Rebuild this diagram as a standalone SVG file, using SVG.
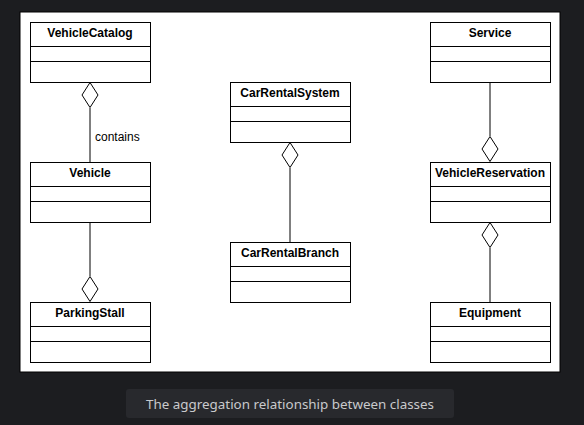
<svg xmlns="http://www.w3.org/2000/svg" width="584" height="425" viewBox="0 0 584 425">
<style>
.box{fill:#fff;stroke:#000;stroke-width:1}
.sep{stroke:#000;stroke-width:1}
.t{font-family:"Liberation Sans",Arial,sans-serif;font-size:12px;font-weight:bold;fill:#000;text-anchor:middle}
.lbl{font-family:"Liberation Sans",Arial,sans-serif;font-size:12px;fill:#000}
.edge{stroke:#000;stroke-width:1;fill:none}
.dia{fill:#fff;stroke:#000;stroke-width:1}
.cap{font-family:"Noto Sans","Open Sans",sans-serif;font-size:13.4px;fill:#c9cacc;text-anchor:middle}
</style>
<rect x="0" y="0" width="584" height="425" fill="#1c1d20"/>
<rect x="20" y="12" width="540" height="360" fill="#fff" stroke="#000" stroke-width="1"/>
<g id="connectors">
  <line class="edge" x1="90" y1="108" x2="90" y2="162"/>
  <path class="dia" d="M90 82.5 L98 95 L90 107.5 L82 95 Z"/>
  <line class="edge" x1="90" y1="222" x2="90" y2="276"/>
  <path class="dia" d="M90 276.5 L98 289 L90 301.5 L82 289 Z"/>
  <line class="edge" x1="290" y1="168" x2="290" y2="242"/>
  <path class="dia" d="M290 142.5 L298 155 L290 167.5 L282 155 Z"/>
  <line class="edge" x1="490" y1="82" x2="490" y2="136"/>
  <path class="dia" d="M490 136.5 L498 149 L490 161.5 L482 149 Z"/>
  <line class="edge" x1="490" y1="248" x2="490" y2="302" stroke="#555"/>
  <path class="dia" d="M490 222.5 L498 235 L490 247.5 L482 235 Z"/>
  <text class="lbl" x="95" y="141">contains</text>
</g>
<g id="VehicleCatalog">
  <rect class="box" x="30.5" y="22.5" width="120" height="60"/>
  <line class="sep" x1="30.5" y1="46.5" x2="150.5" y2="46.5"/>
  <line class="sep" x1="30.5" y1="61.5" x2="150.5" y2="61.5"/>
  <text class="t" x="90" y="37">VehicleCatalog</text>
</g>
<g id="Vehicle">
  <rect class="box" x="30.5" y="162.5" width="120" height="60"/>
  <line class="sep" x1="30.5" y1="186.5" x2="150.5" y2="186.5"/>
  <line class="sep" x1="30.5" y1="201.5" x2="150.5" y2="201.5"/>
  <text class="t" x="90" y="177">Vehicle</text>
</g>
<g id="ParkingStall">
  <rect class="box" x="30.5" y="302.5" width="120" height="60"/>
  <line class="sep" x1="30.5" y1="326.5" x2="150.5" y2="326.5"/>
  <line class="sep" x1="30.5" y1="341.5" x2="150.5" y2="341.5"/>
  <text class="t" x="90" y="317">ParkingStall</text>
</g>
<g id="CarRentalSystem">
  <rect class="box" x="230.5" y="82.5" width="120" height="60"/>
  <line class="sep" x1="230.5" y1="106.5" x2="350.5" y2="106.5"/>
  <line class="sep" x1="230.5" y1="121.5" x2="350.5" y2="121.5"/>
  <text class="t" x="290" y="97">CarRentalSystem</text>
</g>
<g id="CarRentalBranch">
  <rect class="box" x="230.5" y="242.5" width="120" height="60"/>
  <line class="sep" x1="230.5" y1="266.5" x2="350.5" y2="266.5"/>
  <line class="sep" x1="230.5" y1="281.5" x2="350.5" y2="281.5"/>
  <text class="t" x="290" y="257">CarRentalBranch</text>
</g>
<g id="Service">
  <rect class="box" x="430.5" y="22.5" width="120" height="60"/>
  <line class="sep" x1="430.5" y1="46.5" x2="550.5" y2="46.5"/>
  <line class="sep" x1="430.5" y1="61.5" x2="550.5" y2="61.5"/>
  <text class="t" x="490" y="37">Service</text>
</g>
<g id="VehicleReservation">
  <rect class="box" x="430.5" y="162.5" width="120" height="60"/>
  <line class="sep" x1="430.5" y1="186.5" x2="550.5" y2="186.5"/>
  <line class="sep" x1="430.5" y1="201.5" x2="550.5" y2="201.5"/>
  <text class="t" x="490" y="177">VehicleReservation</text>
</g>
<g id="Equipment">
  <rect class="box" x="430.5" y="302.5" width="120" height="60"/>
  <line class="sep" x1="430.5" y1="326.5" x2="550.5" y2="326.5"/>
  <line class="sep" x1="430.5" y1="341.5" x2="550.5" y2="341.5"/>
  <text class="t" x="490" y="317">Equipment</text>
</g>
<g id="caption">
  <rect x="126" y="389" width="328" height="29" rx="3" fill="#28292d"/>
  <text class="cap" x="290" y="408.5">The aggregation relationship between classes</text>
</g>
</svg>
